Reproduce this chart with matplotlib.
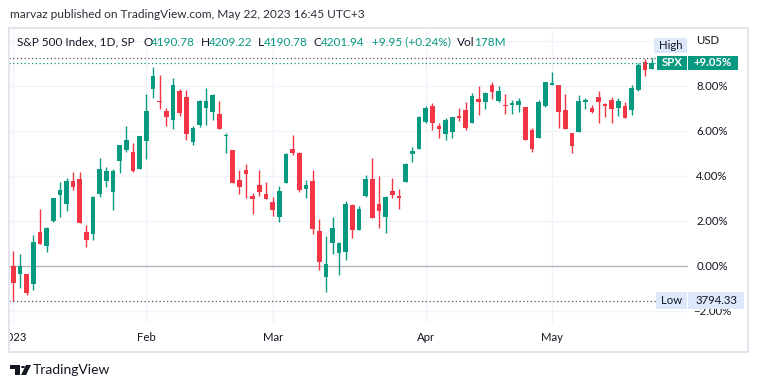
import numpy as np
import pandas as pd
import matplotlib
matplotlib.use("Agg")
import matplotlib.pyplot as plt
from matplotlib.patches import Rectangle, Polygon, Circle
from matplotlib.transforms import blended_transform_factory

plt.rcParams['font.family'] = ['Lato', 'DejaVu Sans']

# S&P 500 daily candles, values in % vs first open (3853.29)
holidays = ['2023-01-16', '2023-02-20', '2023-04-07']
opens = [0.00, -0.33, -0.34, -0.77, 1.53, 0.92, 2.01, 3.17, 2.79, 3.79,
         3.88, 1.53, 1.45, 3.23, 3.81, 3.32, 4.70, 5.19, 5.08, 4.34,
         5.59, 7.90, 7.35, 6.90, 6.50, 7.79, 7.53, 5.54, 6.30, 7.05,
         6.87, 6.77, 5.78, 5.17, 3.84, 4.28, 3.13, 3.61, 3.21, 2.86,
         2.21, 3.72, 5.21, 5.04, 3.45, 3.79, 1.57, -0.46, 1.05, 0.61,
         0.65, 2.73, 1.63, 3.14, 3.88, 2.77, 2.21, 3.35, 3.14, 3.76,
         5.01, 5.23, 6.43, 7.13, 6.24, 5.90, 5.99, 6.68, 6.95, 6.39,
         7.44, 7.32, 8.06, 7.36, 7.19, 7.19, 7.19, 7.08, 6.06, 5.72,
         7.14, 8.07, 8.06, 6.95, 5.93, 5.99, 7.32, 7.04, 7.53, 7.21,
         7.39, 7.05, 7.13, 6.96, 7.84, 9.07, 8.76]
highs = [0.68, 0.55, -0.34, 1.39, 2.55, 1.76, 3.04, 3.75, 3.93, 4.19,
         4.19, 1.84, 3.14, 4.81, 4.41, 4.33, 5.39, 6.24, 5.48, 5.79,
         7.66, 8.86, 8.50, 7.02, 8.37, 7.88, 7.82, 6.24, 7.39, 7.93,
         7.67, 7.35, 5.93, 5.17, 4.28, 4.55, 3.27, 4.28, 3.75, 3.08,
         3.57, 5.04, 5.84, 5.08, 3.84, 4.28, 2.10, 1.35, 2.19, 1.08,
         2.90, 2.77, 2.68, 4.06, 4.81, 4.01, 3.13, 3.93, 3.44, 4.59,
         5.30, 6.68, 7.13, 7.26, 6.37, 6.59, 6.64, 7.04, 7.30, 7.70,
         8.01, 7.75, 8.19, 8.01, 7.67, 7.39, 7.48, 7.08, 6.15, 7.39,
         8.19, 8.64, 8.06, 7.66, 5.93, 7.61, 7.48, 7.17, 7.79, 7.26,
         7.53, 7.48, 7.30, 8.06, 9.04, 9.22, 9.24]
lows = [-1.53, -0.96, -1.26, -1.07, 1.00, 0.65, 1.99, 2.21, 2.47, 3.41,
        1.94, 0.87, 1.19, 3.10, 3.54, 2.52, 4.16, 5.10, 4.21, 4.34,
        4.79, 7.50, 6.99, 6.24, 6.10, 6.70, 5.63, 5.41, 6.21, 6.30,
        6.50, 6.12, 5.05, 3.72, 3.23, 3.05, 2.34, 3.14, 3.01, 2.25,
        1.99, 3.72, 4.96, 3.32, 3.05, 1.45, -0.15, -1.13, 0.56, -0.37,
        0.30, 1.27, 1.63, 3.10, 2.16, 1.72, 1.50, 3.05, 2.56, 3.76,
        4.65, 5.23, 6.39, 6.07, 5.72, 5.63, 5.72, 6.47, 6.07, 6.39,
        6.74, 7.01, 7.45, 7.32, 6.79, 6.79, 6.87, 5.63, 5.10, 5.72,
        7.10, 8.07, 6.16, 6.12, 5.05, 5.99, 7.01, 6.83, 6.39, 6.65,
        6.39, 6.70, 6.61, 6.74, 7.79, 8.47, 8.76]
closes = [-0.76, 0.01, -1.17, 1.08, 1.01, 1.70, 3.04, 3.39, 3.79, 3.54,
          1.94, 1.19, 3.08, 4.33, 4.24, 4.24, 5.39, 5.61, 4.25, 5.79,
          6.90, 8.46, 7.30, 6.65, 8.06, 6.83, 5.90, 6.15, 7.35, 7.35,
          7.61, 6.12, 5.84, 3.72, 3.54, 4.12, 3.01, 3.32, 3.01, 2.52,
          3.35, 4.99, 5.05, 3.41, 3.61, 1.67, 0.21, 0.10, 1.70, 1.04,
          2.77, 1.63, 2.55, 3.88, 2.16, 2.47, 3.08, 3.19, 3.05, 4.55,
          5.13, 6.64, 7.04, 6.39, 6.12, 6.50, 6.64, 6.61, 6.16, 7.57,
          7.32, 7.70, 7.76, 7.79, 7.14, 7.27, 7.35, 5.63, 5.23, 7.30,
          8.19, 8.15, 6.87, 6.12, 5.36, 7.35, 7.39, 6.87, 7.32, 7.14,
          7.01, 7.35, 6.61, 7.93, 8.95, 8.74, 9.05]
price_ticks = [-2, 0, 2, 4, 6, 8]
range_high = 9.24
range_low = -1.53
last_pct = 9.05

UP, DOWN = '#089981', '#f23645'
TXT = '#131722'
GRID = '#f0f3fa'

W, H = 758, 388
def fx(x): return x / W
def fy(y): return 1 - y / H

dates = pd.bdate_range('2023-01-03', '2023-05-22', freq='C', holidays=holidays)
n = len(dates)
idx = np.arange(n)
month_start = [0] + [i for i in range(1, n) if dates[i].month != dates[i - 1].month]
month_lbl = ['2023' if i == 0 else dates[i].strftime('%b') for i in month_start]

fig = plt.figure(figsize=(W / 100, H / 100), dpi=100)
fig.patch.set_facecolor('white')

# main pane: x 9..688 px, y 31..323 px
ax = fig.add_axes([fx(9), fy(323), fx(688) - fx(9), fy(31) - fy(323)])
x0, dx = 13.3, 6.65
ax.set_xlim((9 - x0) / dx, (688 - x0) / dx)
ax.set_ylim((266.3 - 323) / 22.5, (266.3 - 31) / 22.5)
ax.axis('off')

for y in [-2, 2, 4, 6, 8, 10]:
    ax.axhline(y, color=GRID, lw=1, zorder=0)
for i in month_start:
    ax.axvline(i, color=GRID, lw=1, zorder=0)
ax.axhline(0, color='#b2b5be', lw=1, zorder=1)

o = np.array(opens); c = np.array(closes)
hi = np.array(highs); lo = np.array(lows)
col = np.where(c >= o, UP, DOWN)
ax.vlines(idx, lo, hi, colors=col, lw=1, zorder=2)
bot = np.minimum(o, c)
ht = np.maximum(np.abs(c - o), 0.05)
ax.bar(idx, ht, bottom=bot, width=0.7, color=col, lw=0, zorder=3)

ax.axhline(range_high, color='#50535e', lw=0.9, ls=(0, (1, 2)), zorder=4)
ax.axhline(last_pct, color=UP, lw=0.9, ls=(0, (1, 2)), zorder=4)
ax.axhline(range_low, color='#50535e', lw=0.9, ls=(0, (1, 2)), zorder=4)

# price scale labels
tr = blended_transform_factory(fig.transFigure, ax.transData)
for p in price_ticks:
    ax.text(fx(712), p, f'{p:.2f}%'.replace('-', '\u2212'), transform=tr,
            ha='center', va='center', fontsize=8.2, color=TXT, clip_on=False)

# time axis
tax = fig.add_axes([fx(10), fy(352), fx(688) - fx(10), fy(323) - fy(352)])
tax.set_xlim((10 - x0) / dx, (688 - x0) / dx)
tax.set_ylim(0, 1)
tax.axis('off')
for i, lbl in zip(month_start, month_lbl):
    t = tax.text(i, 0.5, lbl, ha='center', va='center', fontsize=8.2, color=TXT)
    t.set_clip_on(True)

# frame
fig.patches.append(Rectangle((fx(9), fy(352)), fx(748) - fx(9), fy(28) - fy(352),
                             transform=fig.transFigure, fill=False,
                             ec='#e0e3eb', lw=1.3))

def box(x1, y1, x2, y2, fc, text, tc, bold=False):
    fig.patches.append(Rectangle((fx(x1), fy(y2)), fx(x2) - fx(x1), fy(y1) - fy(y2),
                                 transform=fig.transFigure, fc=fc, ec='none', zorder=5))
    fig.text(fx((x1 + x2) / 2), fy((y1 + y2) / 2), text, ha='center', va='center',
             fontsize=8.2, color=tc, fontweight='bold' if bold else 'normal', zorder=6)

box(654, 38, 687, 53, '#dde9fb', 'High', TXT)
box(657, 56, 687, 70, UP, 'SPX', 'white', True)
box(688, 56, 738, 70, UP, '+9.05%', 'white', True)
box(656, 292, 687, 309, '#dde9fb', 'Low', TXT)
box(688, 292, 744, 309, '#dde9fb', '3794.33', TXT)
fig.patches.append(Rectangle((fx(690), fy(50)), fx(745) - fx(690), fy(31) - fy(50),
                             transform=fig.transFigure, fc='white', ec='none', zorder=5))
fig.text(fx(708), fy(41), 'USD', ha='center', va='center', fontsize=8.2, color=TXT, zorder=6)

# texts
fig.text(fx(10), fy(15), 'marvaz published on TradingView.com, May 22, 2023 16:45 UTC+3',
         ha='left', va='center', fontsize=8.6, color='#2a2e39')
hy = fy(42)
fig.text(fx(17), hy, 'S&P 500 Index, 1D, SP', ha='left', va='center', fontsize=8.5, color=TXT)
for lx, nx, l, v in [(143, 151, 'O', '4190.78'), (201, 209, 'H', '4209.22'),
                     (258, 264, 'L', '4190.78'), (313, 321, 'C', '4201.94')]:
    fig.text(fx(lx), hy, l, ha='left', va='center', fontsize=8.5, color=TXT)
    fig.text(fx(nx), hy, v, ha='left', va='center', fontsize=8.5, color=UP)
fig.text(fx(372), hy, '+9.95 (+0.24%)', ha='left', va='center', fontsize=8.5, color=UP)
fig.text(fx(457), hy, 'Vol', ha='left', va='center', fontsize=8.5, color=TXT)
fig.text(fx(474), hy, '178M', ha='left', va='center', fontsize=8.5, color=UP)

# TradingView logo
fig.patches.append(Polygon([(fx(10), fy(365)), (fx(20), fy(365)), (fx(20), fy(375)),
                            (fx(15), fy(375)), (fx(15), fy(369)), (fx(10), fy(369))],
                           closed=True, transform=fig.transFigure, fc=TXT, ec='none'))
fig.patches.append(Circle((fx(23), fy(367)), 2 / W, transform=fig.transFigure, fc=TXT, ec='none'))
fig.patches.append(Polygon([(fx(26), fy(365)), (fx(31), fy(365)), (fx(26), fy(375)),
                            (fx(21), fy(375))],
                           closed=True, transform=fig.transFigure, fc=TXT, ec='none'))
fig.text(fx(33), fy(370), 'TradingView', ha='left', va='center', fontsize=10, color=TXT)

fig.savefig('out.png', dpi=100)
